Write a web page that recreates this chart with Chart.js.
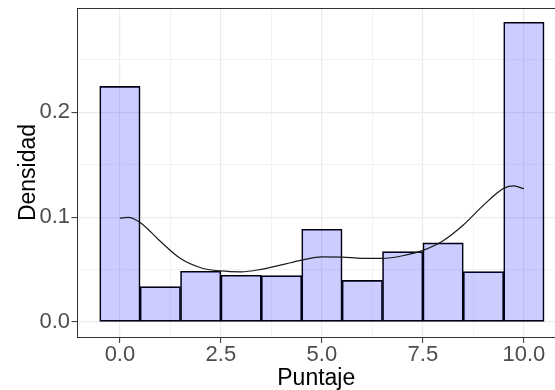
<!DOCTYPE html>
<html>
<head>
<meta charset="utf-8">
<script src="https://cdn.jsdelivr.net/npm/chart.js@4.4.1/dist/chart.umd.min.js"></script>
<style>
  html, body { margin: 0; padding: 0; background: #ffffff; overflow: hidden; }
  #wrap { width: 555px; height: 390px; }
</style>
</head>
<body>
<div id="wrap"><canvas id="histChart" width="555" height="390"></canvas></div>
<script>
// histogram bins (centre, density)
const binCenters = [0, 1, 2, 3, 4, 5, 6, 7, 8, 9, 10];
const binDensity = [0.2248, 0.0338, 0.0484, 0.0446, 0.0443, 0.0885, 0.0398, 0.0672, 0.0755, 0.0481, 0.286];

// kernel density curve
const densityX = [0, 0.2, 0.5, 1, 1.5, 2, 2.5, 3, 3.5, 4, 4.5, 5, 5.5, 6, 6.5, 7, 7.5, 8, 8.5, 9, 9.5, 9.75, 10];
const densityY = [0.099, 0.0998, 0.095, 0.077, 0.0605, 0.0518, 0.0487, 0.0479, 0.0503, 0.0545, 0.059, 0.0621, 0.0619, 0.0608, 0.0607, 0.0632, 0.0683, 0.0775, 0.0925, 0.1115, 0.1275, 0.1298, 0.1272];

// ticks: majors get labels, minors only grid lines
const xMajor = [0, 2.5, 5, 7.5, 10];
const xMinor = [1.25, 3.75, 6.25, 8.75];
const yMajor = [0, 0.1, 0.2];
const yMinor = [0.05, 0.15, 0.25];

const GRID = '#ebebeb';
const BORDER = '#333333';

const isMajor = (list, v) => list.some(m => Math.abs(m - v) < 1e-9);
const tickVal = c => (c && c.tick) ? c.tick.value : NaN;

const panelTop = {
  id: 'panelTop',
  afterDraw(chart) {
    const { ctx, chartArea } = chart;
    ctx.save();
    ctx.strokeStyle = BORDER;
    ctx.lineWidth = 1;
    ctx.beginPath();
    ctx.moveTo(chartArea.left, Math.round(chartArea.top) + 0.5);
    ctx.lineTo(chartArea.right, Math.round(chartArea.top) + 0.5);
    ctx.stroke();
    ctx.restore();
  }
};

const ctx = document.getElementById('histChart').getContext('2d');

new Chart(ctx, {
  type: 'bar',
  data: {
    datasets: [
      {
        type: 'bar',
        data: binCenters.map((c, i) => ({ x: c, y: binDensity[i] })),
        backgroundColor: 'rgba(0, 0, 255, 0.2)',
        borderColor: '#000000',
        borderWidth: 1,
        borderSkipped: false,
        categoryPercentage: 1,
        barPercentage: 1,
        order: 2
      },
      {
        type: 'line',
        data: densityX.map((x, i) => ({ x: x, y: densityY[i] })),
        borderColor: '#1a1a1a',
        borderWidth: 1.2,
        pointRadius: 0,
        fill: false,
        cubicInterpolationMode: 'monotone',
        order: 1
      }
    ]
  },
  options: {
    responsive: false,
    animation: false,
    devicePixelRatio: 1,
    layout: { padding: { top: 8, left: 0, right: 0, bottom: 0 } },
    plugins: {
      legend: { display: false },
      tooltip: { enabled: false }
    },
    scales: {
      x: {
        type: 'linear',
        min: -1.05,
        max: 10.77,
        offset: false,
        afterBuildTicks: s => { s.ticks = xMajor.concat(xMinor).sort((a, b) => a - b).map(v => ({ value: v })); },
        afterFit: s => { s.height = 53; s.paddingLeft = 0; s.paddingRight = 0; },
        ticks: {
          autoSkip: false,
          maxRotation: 0,
          padding: 1,
          color: '#4d4d4d',
          font: { family: 'Liberation Sans', size: 22, lineHeight: 1 },
          callback: v => isMajor(xMajor, v) ? v.toFixed(1) : ''
        },
        grid: {
          offset: false,
          color: GRID,
          lineWidth: c => isMajor(xMajor, tickVal(c)) ? 1.2 : 0.6,
          tickColor: c => isMajor(xMajor, tickVal(c)) ? BORDER : 'rgba(0,0,0,0)',
          tickWidth: 1,
          tickLength: 6
        },
        border: { display: true, color: BORDER, width: 1 },
        title: {
          display: true,
          text: 'Puntaje',
          color: '#000000',
          font: { family: 'Liberation Sans', size: 23, lineHeight: 1 },
          padding: { top: 0, bottom: 0 }
        }
      },
      y: {
        type: 'linear',
        min: -0.0143,
        max: 0.2996,
        afterBuildTicks: s => { s.ticks = yMajor.concat(yMinor).sort((a, b) => a - b).map(v => ({ value: v })); },
        afterFit: s => { s.width = 77.5; s.paddingTop = 0; s.paddingBottom = 0; },
        ticks: {
          autoSkip: false,
          padding: 1.5,
          color: '#4d4d4d',
          font: { family: 'Liberation Sans', size: 22, lineHeight: 1 },
          callback: v => isMajor(yMajor, v) ? v.toFixed(1) : ''
        },
        grid: {
          color: GRID,
          lineWidth: c => isMajor(yMajor, tickVal(c)) ? 1.2 : 0.6,
          tickColor: c => isMajor(yMajor, tickVal(c)) ? BORDER : 'rgba(0,0,0,0)',
          tickWidth: 1,
          tickLength: 6
        },
        border: { display: true, color: BORDER, width: 1 },
        title: {
          display: true,
          text: 'Densidad',
          color: '#000000',
          font: { family: 'Liberation Sans', size: 23, lineHeight: 1 },
          padding: { top: 17.5, bottom: 0 }
        }
      }
    }
  },
  plugins: [panelTop]
});
</script>
</body>
</html>
